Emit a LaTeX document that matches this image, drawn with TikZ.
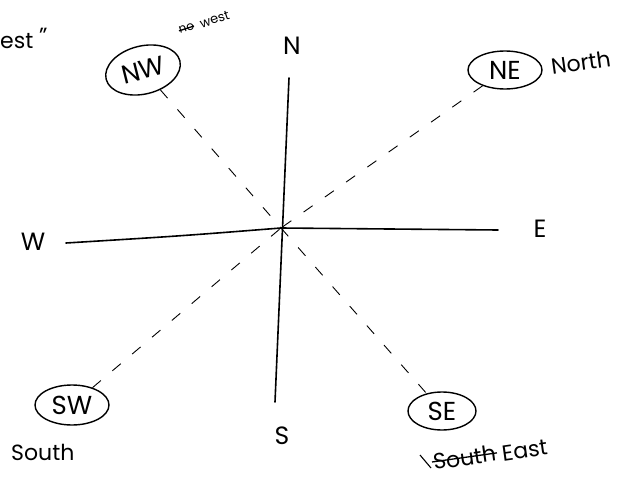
\documentclass[tikz,border=0pt]{standalone}
\usepackage{fontspec}
\setmainfont{Poppins}
\usetikzlibrary{shapes.geometric}
\begin{document}
\begin{tikzpicture}[x=1pt,y=-1pt,
  axis/.style={line width=1.6pt,line cap=round},
  dashray/.style={line width=0.9pt,dash pattern=on 11pt off 15pt},
  ring/.style={ellipse,draw,line width=1.4pt,inner sep=1pt,font=\fontsize{26}{28}\selectfont},
  dirlabel/.style={font=\fontsize{25}{27}\selectfont,inner sep=0pt},
  note/.style={font=\fontsize{22}{24}\selectfont,inner sep=1pt},
  strike/.style={line width=1.3pt}]
\useasboundingbox (0,0) rectangle (637,484);
% axes
\coordinate (c) at (281,228);
\coordinate (ntop) at (289,78);
\coordinate (sbot) at (275,402);
\coordinate (wend) at (66,243);
\coordinate (eend) at (498,230);
\draw[axis] (ntop) -- (sbot);
\draw[axis] (wend) .. controls (180,236) .. (c) -- (eend);
% direction labels
\node[dirlabel] (N) at (292,46) {N};
\node[dirlabel] (S) at (282,436) {S};
\node[dirlabel] (W) at (33,242) {W};
\node[dirlabel] (E) at (540,229) {E};
% intercardinal rings
\node[ring,minimum width=76pt,minimum height=48pt,rotate=14] (NW) at (143,70) {NW};
\node[ring,minimum width=74pt,minimum height=38pt] (NE) at (505,70) {NE};
\node[ring,minimum width=74pt,minimum height=40pt] (SW) at (72,405) {SW};
\node[ring,minimum width=68pt,minimum height=38pt] (SE) at (442,411) {SE};
% dashed rays
\draw[dashray] (NW) -- (c);
\draw[dashray] (NE) -- (c);
\draw[dashray] (SW) -- (c);
\draw[dashray] (c) -- (SE);
% notes
\node[note,anchor=west,inner sep=0pt] (west1) at (0,38) {est \raisebox{5pt}{''}};
\node[note,rotate=18,font=\fontsize{12}{13}\selectfont,anchor=east,inner sep=0pt] (no) at (194,26) {no};
\draw[strike] (no.west) -- (no.east);
\node[note,rotate=18,font=\fontsize{13}{14}\selectfont,anchor=west,inner sep=0pt] (west2) at ([xshift=6pt,yshift=2pt]no.east) {west};
\node[note,rotate=8,anchor=west] (north) at (550,67) {North};
\node[note,anchor=west] (south) at (10,452) {South};
\node[note,rotate=8,anchor=west] (sth) at (432,462) {South};
\draw[strike] (sth.west) -- (sth.east);
\node[note,rotate=8,anchor=west] (east) at ([xshift=4pt,yshift=-1pt]sth.east) {East};
\draw[line width=1.1pt] (420,455) -- (431,468);
\end{tikzpicture}
\end{document}
